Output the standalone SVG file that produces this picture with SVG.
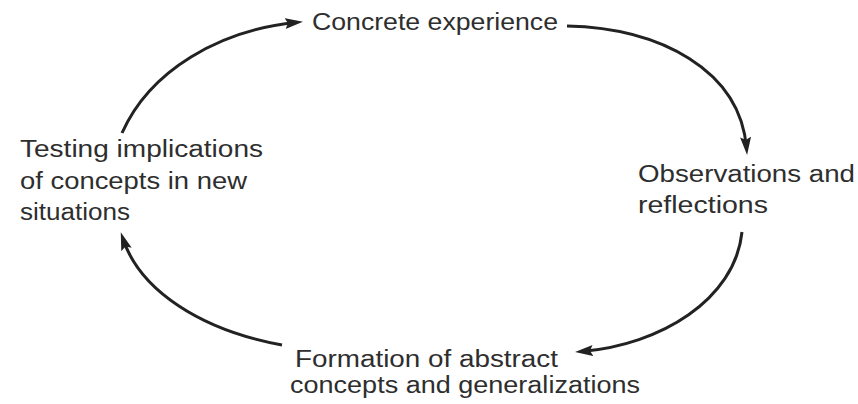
<svg xmlns="http://www.w3.org/2000/svg" width="858" height="404" viewBox="0 0 858 404">
<style>
.t{font-family:"Liberation Sans","DejaVu Sans",sans-serif;font-size:23.5px;fill:#2e2e2e}
.c{fill:none;stroke:#222;stroke-width:3;marker-end:url(#ah)}
</style>
<defs>
<marker id="ah" markerUnits="userSpaceOnUse" markerWidth="20" markerHeight="12" refX="11" refY="5.5" orient="auto">
<path d="M0,0 L18,5.5 L0,11 L3,5.5 z" fill="#222"/>
</marker>
</defs>
<rect width="858" height="404" fill="#fff"/>
<g id="connectors">
<path class="c" d="M122,133 C150,70 220,30 296,22.5"/>
<path class="c" d="M567,26 C660,28 740,70 746.5,148"/>
<path class="c" d="M742,232 C735,300 660,345 582,351.5"/>
<path class="c" d="M282,345 C200,330 140,290 123,239"/>
</g>
<g id="concrete">
<text class="t" x="312" y="30" textLength="246" lengthAdjust="spacingAndGlyphs">Concrete experience</text>
</g>
<g id="observations">
<text class="t" x="638" y="182" textLength="217" lengthAdjust="spacingAndGlyphs">Observations and</text>
<text class="t" x="638" y="213" textLength="130" lengthAdjust="spacingAndGlyphs">reflections</text>
</g>
<g id="formation">
<text class="t" x="295" y="367" textLength="263" lengthAdjust="spacingAndGlyphs">Formation of abstract</text>
<text class="t" x="290" y="393" textLength="350" lengthAdjust="spacingAndGlyphs">concepts and generalizations</text>
</g>
<g id="testing">
<text class="t" x="20" y="157" textLength="243" lengthAdjust="spacingAndGlyphs">Testing implications</text>
<text class="t" x="20" y="189" textLength="227" lengthAdjust="spacingAndGlyphs">of concepts in new</text>
<text class="t" x="20" y="220" textLength="110" lengthAdjust="spacingAndGlyphs">situations</text>
</g>
</svg>
